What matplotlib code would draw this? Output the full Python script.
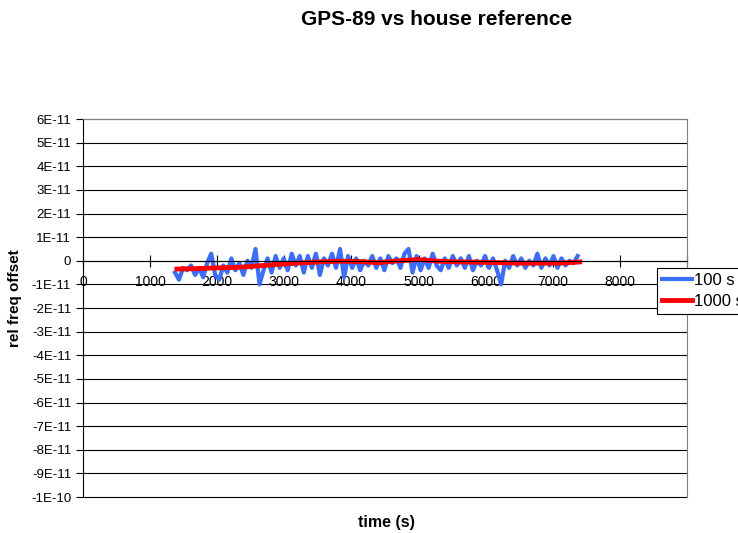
import numpy as np
import matplotlib
matplotlib.use("Agg")
import matplotlib.pyplot as plt

plt.rcParams["font.family"] = ["Liberation Sans", "DejaVu Sans"]

# 100 s averages (units of 1e-11), sampled every 60 s from 1370 s
t100 = np.arange(1370, 7371, 60)
v100 = [
    -0.5, -0.8, -0.3, -0.4, -0.2, -0.6, -0.3, -0.7, -0.1, 0.3, -0.6,
    -0.8, -0.2, -0.5, 0.1, -0.4, -0.1, -0.6, 0.0, -0.3, 0.5, -1.0,
    -0.4, 0.1, -0.5, 0.2, -0.3, 0.1, -0.4, 0.3, -0.2, 0.2, -0.5,
    0.2, -0.3, 0.3, -0.6, 0.1, -0.2, 0.3, -0.3, 0.5, -0.7, 0.2,
    -0.3, 0.1, -0.4, 0.0, -0.2, 0.2, -0.3, 0.1, -0.4, 0.2, -0.1,
    0.1, -0.3, 0.3, 0.5, -0.5, 0.2, -0.4, 0.1, -0.3, 0.3, -0.2,
    -0.4, 0.1, -0.3, 0.2, -0.2, 0.1, -0.3, 0.2, -0.4, 0.0, -0.2,
    0.2, -0.3, 0.1, -0.4, -1.0, 0.0, -0.3, 0.2, -0.2, 0.1, -0.3,
    0.0, -0.2, 0.3, -0.3, 0.1, -0.2, 0.2, -0.3, 0.1, -0.2, 0.0,
    -0.1, 0.2,
]

# 1000 s averages (units of 1e-11)
t1000 = [1400, 1700, 2000, 2300, 2600, 2900, 3200, 3500, 3800, 4100, 4400,
         4700, 5000, 5300, 5600, 5900, 6200, 6500, 6800, 7100, 7400]
v1000 = [-0.35, -0.33, -0.3, -0.28, -0.22, -0.15, -0.1, -0.05, -0.02, -0.03,
         -0.08, 0.0, 0.05, -0.02, -0.05, -0.06, -0.08, -0.1, -0.1, -0.1, -0.05]

yticks = np.arange(-10, 7, 1)
ylabels = ["-1E-10"] + [f"{v}E-11" if v != 0 else "0" for v in range(-9, 7)]
xticks = np.arange(0, 9001, 1000)
xlabels = [str(x) for x in xticks[:-1]] + [""]

fig = plt.figure(figsize=(7.38, 5.33), dpi=100)
ax = fig.add_axes([0.1125, 0.0675, 0.8184, 0.7092])

ax.plot(t100, np.array(v100) * 1e-11, color="#3A6EFF", lw=3, label="100 s")
ax.plot(t1000, np.array(v1000) * 1e-11, color="#FF0000", lw=3.5, label="1000 s")

ax.set_xlim(0, 9000)
ax.set_ylim(-1e-10, 6e-11)
ax.set_yticks(yticks * 1e-11)
ax.set_yticklabels(ylabels, fontsize=9.5)
ax.set_xticks(xticks)
ax.set_xticklabels(xlabels, fontsize=9.5)

for y in yticks:
    ax.axhline(y * 1e-11, color="black", lw=0.8, zorder=0, clip_on=False)

ax.spines["bottom"].set_position(("data", 0))
ax.spines["bottom"].set_linewidth(0.8)
ax.spines["left"].set_linewidth(0.8)
ax.spines["top"].set_color("#808080")
ax.spines["right"].set_color("#808080")
ax.tick_params(axis="x", direction="inout", length=8, width=0.8, pad=6)
ax.tick_params(axis="y", direction="out", length=5, width=0.8)

fig.text(0.591, 0.964, "GPS-89 vs house reference", ha="center", va="center",
         fontsize=15, fontweight="bold")
fig.text(0.523, 0.02, "time (s)", ha="center", va="center",
         fontsize=11.5, fontweight="bold")
fig.text(0.021, 0.44, "rel freq offset", ha="center", va="center",
         fontsize=11, fontweight="bold", rotation=90)

# legend sits partly outside the figure, as in the original
leg = ax.legend(loc="upper left", bbox_to_anchor=(0.89, 0.498),
                bbox_transform=fig.transFigure, fontsize=12, fancybox=False,
                edgecolor="black", framealpha=1, borderpad=0.3,
                borderaxespad=0, handlelength=1.8, handletextpad=0.15,
                labelspacing=0.4)
leg.get_frame().set_linewidth(0.8)

fig.savefig("out.png", dpi=100)
